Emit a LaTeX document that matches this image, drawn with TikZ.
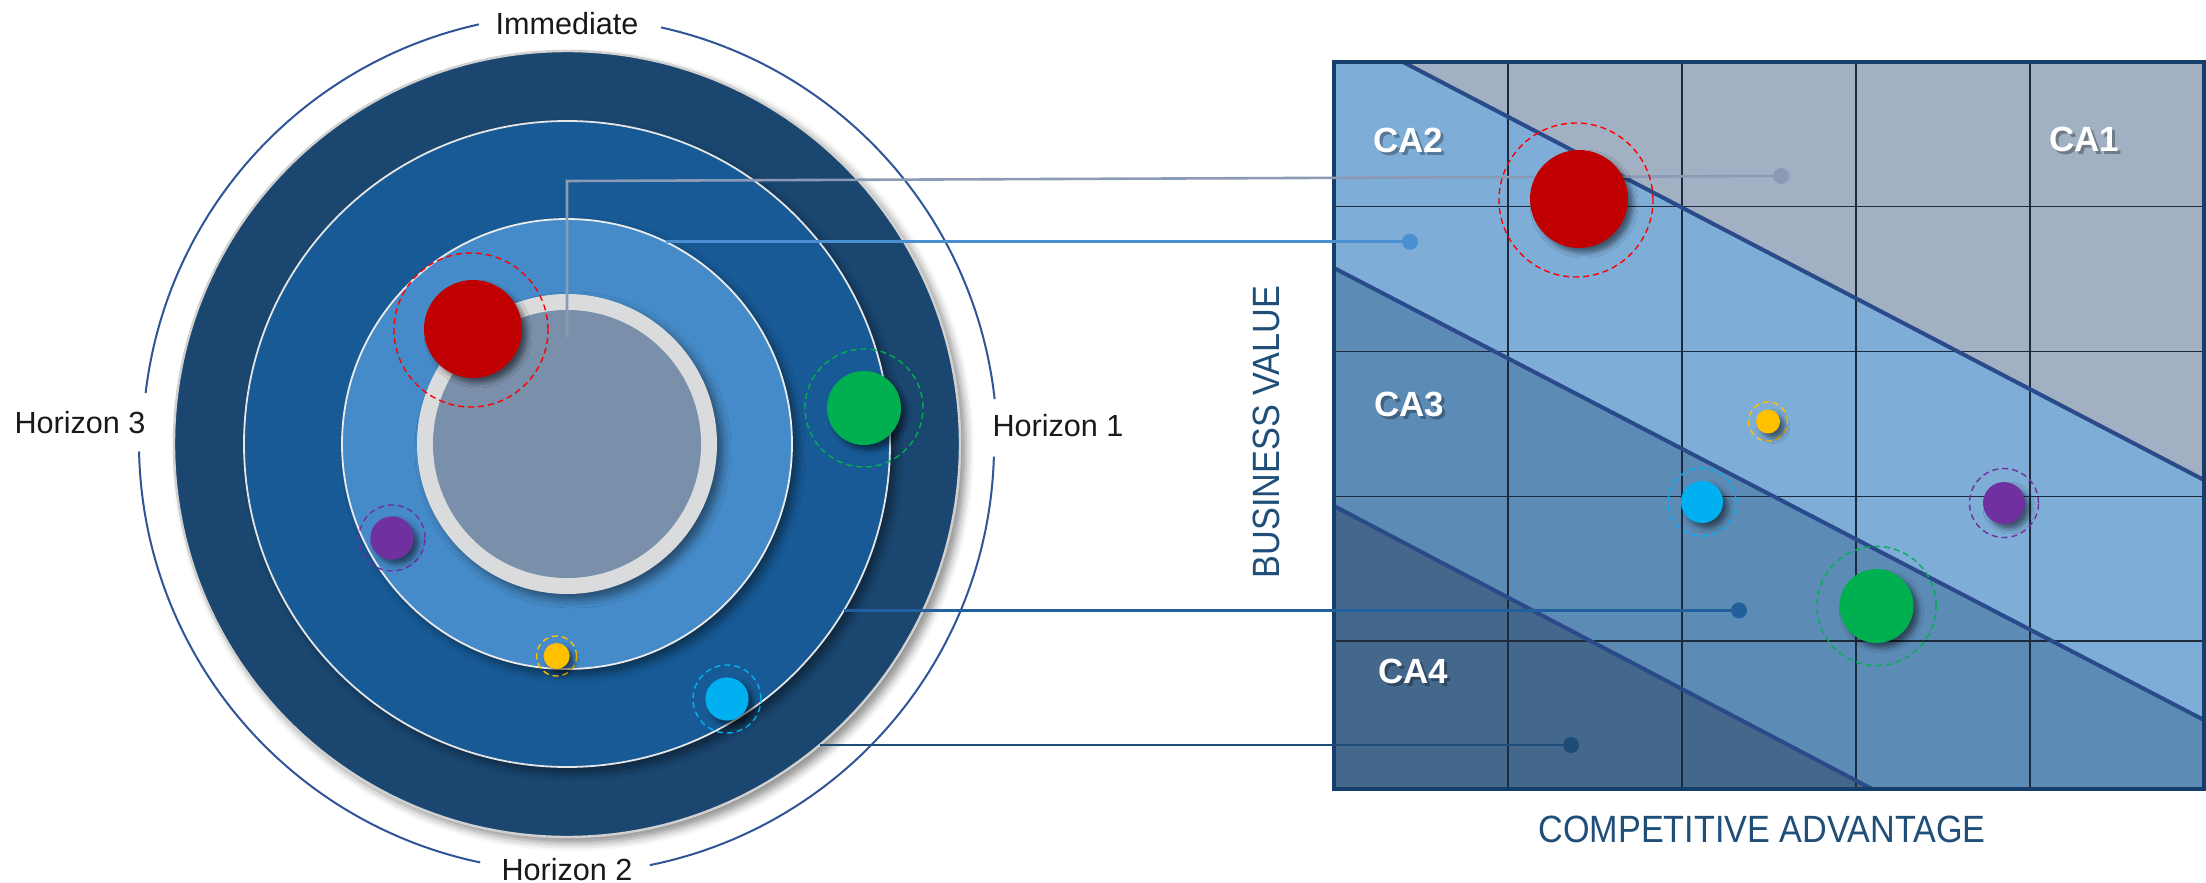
\documentclass[tikz,border=0pt]{standalone}
\usepackage{fontspec}
\setmainfont{Liberation Sans}
\usetikzlibrary{shadows.blur,calc}
\definecolor{darkring}{HTML}{1A4670}
\definecolor{medring}{HTML}{175A96}
\definecolor{lightring}{HTML}{468BC9}
\definecolor{ringgray}{HTML}{DADBDC}
\definecolor{coregray}{HTML}{7A8FA9}
\definecolor{arcblue}{HTML}{2F5597}
\definecolor{conngray}{HTML}{8C9BB5}
\definecolor{connlight}{HTML}{4A8FD0}
\definecolor{connmed}{HTML}{21609D}
\definecolor{conndark}{HTML}{1E4C77}
\definecolor{caone}{HTML}{A1B1C3}
\definecolor{catwo}{HTML}{7EAED8}
\definecolor{cathree}{HTML}{5C8BB6}
\definecolor{cafour}{HTML}{44688B}
\definecolor{diagc}{HTML}{2B4A8A}
\definecolor{borderc}{HTML}{163E6B}
\definecolor{gridc}{HTML}{1E2A3A}
\definecolor{axisblue}{HTML}{1F4E79}
\definecolor{bred}{HTML}{C00000}
\definecolor{bgreen}{HTML}{00B050}
\definecolor{bpurple}{HTML}{7030A0}
\definecolor{byellow}{HTML}{FFC000}
\definecolor{bcyan}{HTML}{00B0F0}
\begin{document}
\begin{tikzpicture}[x=0.5pt,y=0.5pt,
  disc/.style={circle, inner sep=0pt, outer sep=0pt, minimum size=#1},
  sh/.style={blur shadow={shadow xshift=#1, shadow yshift=-#1, shadow blur radius=4pt, shadow opacity=45}},
  ball/.style={circle, inner sep=0pt, outer sep=0pt, minimum size=#1,
    blur shadow={shadow xshift=2.5pt, shadow yshift=-2.5pt, shadow blur radius=2.5pt, shadow opacity=50}},
  halo/.style={circle, inner sep=0pt, draw, line width=0.7pt, dash pattern=on 3pt off 2pt, minimum size=#1},
  conn/.style={line width=1.3pt},
  enddot/.style={circle, inner sep=0pt, minimum size=8pt},
  horizon/.style={font=\fontsize{15.3}{18}\selectfont, text=black!90},
  calabel/.style={text=white, font=\bfseries\fontsize{17.5}{20}\selectfont},
  calshadow/.style={text=black, text opacity=0.3, font=\bfseries\fontsize{17.5}{20}\selectfont},
  axislabel/.style={text=axisblue, font=\fontsize{19}{22}\selectfont},
  arcline/.style={draw=arcblue, line width=1pt},
  gridline/.style={draw=gridc, line width=0.7pt},
  diag/.style={draw=diagc, line width=2pt}
]
\useasboundingbox (0,0) rectangle (2206,-883);

% ---------------- left: horizons ----------------
\node[disc=429pt] (outer) at (568,-444) {};
\draw[arcline] (outer.102.5) arc[start angle=102.5, end angle=173.3, radius=429];
\draw[arcline] (outer.181.2) arc[start angle=181.2, end angle=258.2, radius=429];
\draw[arcline] (outer.281.4) arc[start angle=281.4, end angle=358.4, radius=429];
\draw[arcline] (outer.6.3) arc[start angle=6.3, end angle=77.5, radius=429];

\node[disc=393pt, fill=darkring, draw=black!18, line width=1.2pt, sh=3pt] (darkdisc) at (567,-444) {};
\node[disc=323pt, fill=medring, draw=black!10, line width=0.9pt, sh=3pt] (meddisc) at (567,-444) {};
\node[disc=225pt, fill=lightring, draw=black!8, line width=0.9pt, sh=3pt] (lightdisc) at (567,-444) {};
\node[disc=150pt, fill=ringgray, sh=3pt] (ring) at (567,-444) {};
\node[disc=134pt, fill=coregray] (core) at (567,-444) {};

\node[horizon] (imm) at (567,-24) {Immediate};
\node[horizon] (h3) at (80,-423) {Horizon 3};
\node[horizon] (h1) at (1058,-426) {Horizon 1};
\node[horizon] (h2) at (567,-870) {Horizon 2};

% ---------------- right: matrix ----------------
\fill[catwo] (1334,-62) rectangle (2204,-789);
\fill[caone] (1403,-62) -- (2204,-62) -- (2204,-480) -- cycle;
\fill[cathree] (1334,-268) -- (2204,-720) -- (2204,-789) -- (1334,-789) -- cycle;
\fill[cafour] (1334,-506) -- (1872,-789) -- (1334,-789) -- cycle;
\foreach \gx in {1508,1682,1856,2030} \draw[gridline] (\gx,-62) -- (\gx,-789);
\foreach \gy in {206.5,351.5,496.5,641} \draw[gridline] (1334,-\gy) -- (2204,-\gy);
\draw[diag] (1403,-62) -- (2204,-480);
\draw[diag] (1334,-268) -- (2204,-720);
\draw[diag] (1334,-506) -- (1872,-789);
\draw[draw=borderc, line width=2pt] (1334,-62) rectangle (2204,-789);

\node[axislabel, rotate=90] (bv) at (1266,-432) {\scalebox{0.9}[1]{BUSINESS VALUE}};
\node[axislabel] (ca) at (1762,-829) {\scalebox{0.9}[1]{COMPETITIVE ADVANTAGE}};

\node[calshadow] at (1411,-143) {CA2};
\node[calabel] (catwo) at (1408,-140) {CA2};
\node[calshadow] at (2087,-142) {CA1};
\node[calabel] (caone) at (2084,-139) {CA1};
\node[calshadow] at (1412,-407) {CA3};
\node[calabel] (cathree) at (1409,-404) {CA3};
\node[calshadow] at (1416,-674) {CA4};
\node[calabel] (cafour) at (1413,-671) {CA4};

% ---------------- connectors ----------------
\coordinate (gstart) at (567,-337);
\coordinate (gcorner) at (567,-181);
\node[enddot, fill=conngray] (dotG) at (1781,-176) {};
\draw[conn, conngray] (gstart) -- (gcorner) -- (dotG);

\coordinate (xL) at (1410,0);
\coordinate (xM) at (1739,0);
\coordinate (xD) at (1571,0);
\node[enddot, fill=connlight] (dotL) at (lightdisc.64.75 -| xL) {};
\node[enddot, fill=connmed] (dotM) at (meddisc.-31.5 -| xM) {};
\node[enddot, fill=conndark] (dotD) at (darkdisc.-50.15 -| xD) {};
\draw[conn, connlight] (lightdisc.64.75) -- (dotL);
\draw[conn, connmed] (meddisc.-31.5) -- (dotM);
\draw[conn, conndark] (darkdisc.-50.15) -- (dotD);

% ---------------- balls (left) ----------------
\node[halo=77pt, draw=red] (lredh) at (471,-330) {};
\node[ball=49pt, fill=bred] (lred) at (473,-329) {};
\node[halo=59pt, draw=bgreen] (lgreenh) at (864,-408) {};
\node[ball=37pt, fill=bgreen] (lgreen) at (864,-408) {};
\node[halo=33pt, draw=bpurple] (lpurpleh) at (392,-538) {};
\node[ball=21.6pt, fill=bpurple] (lpurple) at (392,-538) {};
\node[halo=20pt, draw=byellow] (lyellowh) at (556.6,-656) {};
\node[ball=13pt, fill=byellow] (lyellow) at (556.6,-656) {};
\node[halo=34pt, draw=bcyan] (lcyanh) at (727,-699) {};
\node[ball=21.6pt, fill=bcyan] (lcyan) at (727,-699) {};

% ---------------- balls (right) ----------------
\node[halo=77pt, draw=red] (rredh) at (1576,-200) {};
\node[ball=49pt, fill=bred] (rred) at (1579,-199) {};
\node[halo=19.5pt, draw=byellow] (ryellowh) at (1768,-421.5) {};
\node[ball=12pt, fill=byellow] (ryellow) at (1768,-421.5) {};
\node[halo=34pt, draw=bcyan] (rcyanh) at (1702,-502) {};
\node[ball=21pt, fill=bcyan] (rcyan) at (1702,-502) {};
\node[halo=34.5pt, draw=bpurple] (rpurpleh) at (2004,-503) {};
\node[ball=21pt, fill=bpurple] (rpurple) at (2004,-503) {};
\node[halo=59.6pt, draw=bgreen] (rgreenh) at (1876.5,-606) {};
\node[ball=37pt, fill=bgreen] (rgreen) at (1876.5,-606) {};
\end{tikzpicture}
\end{document}
